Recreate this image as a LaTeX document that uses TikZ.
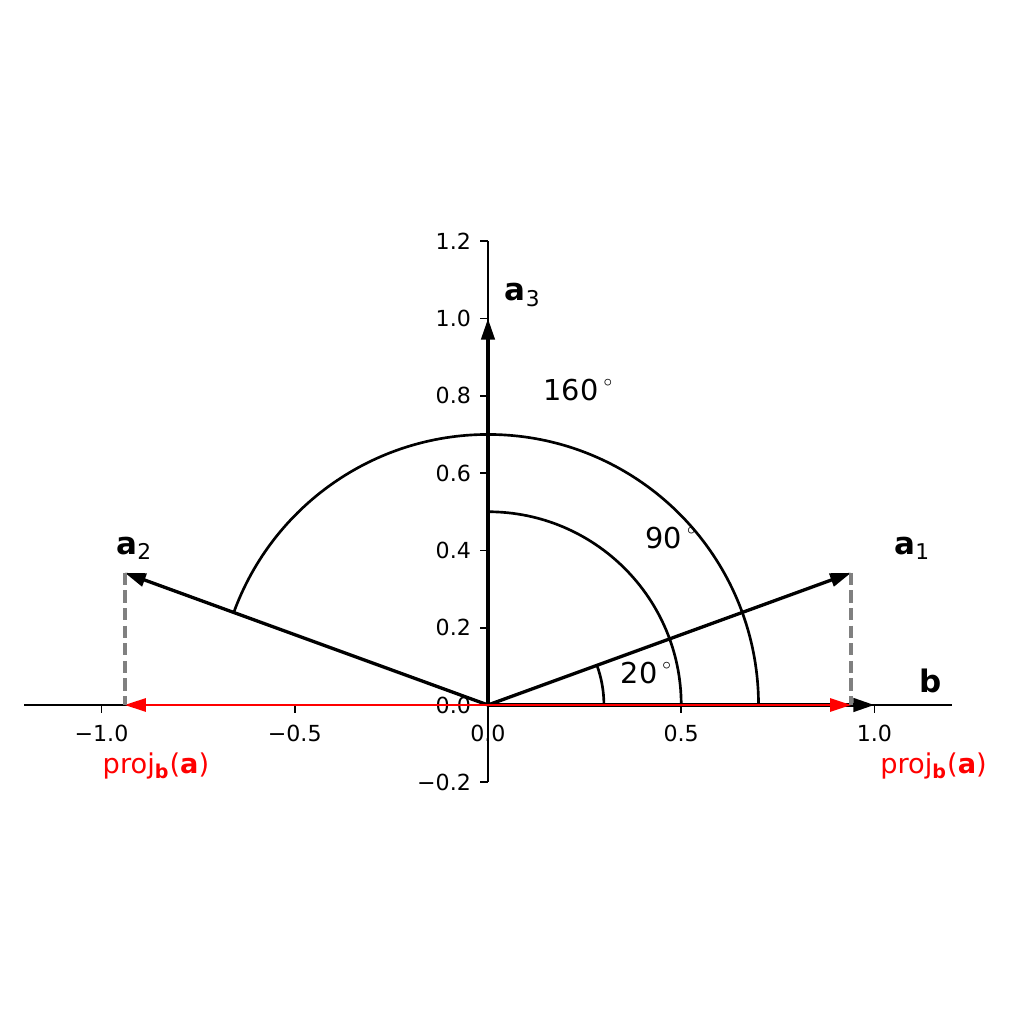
\documentclass[tikz,border=0pt]{standalone}
\usepackage{fontspec}
\setmainfont{DejaVu Sans}
\usetikzlibrary{arrows.meta,positioning}
\newcommand{\degsym}{\,\raisebox{6.3pt}{\fontsize{7}{7}\selectfont$\circ$}}

\begin{document}
\begin{tikzpicture}[
  x=6.136cm, y=6.136cm,
  spine/.style={draw, line width=0.8pt},
  vec/.style={draw, line width=1.5pt, -{Triangle[length=9.5pt,width=6pt]}},
  projvec/.style={vec, red, line width=0.9pt},
  drop/.style={draw, gray, line width=1.6pt, dash pattern=on 5.55pt off 2.4pt},
  angarc/.style={draw, line width=1.2pt},
  ticklab/.style={inner sep=0pt, font=\fontsize{10}{12}\selectfont},
  veclab/.style={inner sep=0pt, font=\fontsize{14}{17}\selectfont},
  anglab/.style={inner sep=0pt, font=\fontsize{13}{16}\selectfont},
  projlab/.style={inner sep=0pt, text=red, font=\fontsize{12.3}{14}\selectfont}
]
\useasboundingbox (-1.2626,-0.8254) rectangle (1.3868,1.8241);

% axes
\draw[spine] (-1.2,0) -- (1.2,0);
\draw[spine] (0,-0.2) -- (0,1.2);
\foreach \x/\lab [count=\i] in {-1/−1.0, -0.5/−0.5, 0/0.0, 0.5/0.5, 1/1.0} {
  \draw[spine] (\x,0) -- ++(0,-3.5pt);
  \node[ticklab, below=9pt] (xt\i) at (\x,0) {\lab};
}
\foreach \y/\lab [count=\i] in {-0.2/−0.2, 0/0.0, 0.2/0.2, 0.4/0.4, 0.6/0.6, 0.8/0.8, 1/1.0, 1.2/1.2} {
  \draw[spine] (0,\y) -- ++(-3.5pt,0);
  \node[ticklab, left=7.5pt] (yt\i) at (0,\y) {\lab};
}

% points
\coordinate (O) at (0,0);
\coordinate (A1) at (20:1);
\coordinate (A2) at (160:1);
\coordinate (A3) at (0,1);
\coordinate (B) at (1,0);
\coordinate (P1) at (0.9397,0);
\coordinate (P2) at (-0.9397,0);

% angle arcs
\draw[angarc] (0.3,0) arc[start angle=0, end angle=20, radius=0.3];
\draw[angarc] (0.5,0) arc[start angle=0, end angle=90, radius=0.5];
\draw[angarc] (0.7,0) arc[start angle=0, end angle=160, radius=0.7];

% vectors
\draw[vec] (O) -- (A1);
\draw[vec] (O) -- (A2);
\draw[vec] (O) -- (A3);
\draw[vec] (O) -- (B);
\draw[projvec] (O) -- (P1);
\draw[projvec] (O) -- (P2);
\draw[drop] (A1) -- (P1);
\draw[drop] (A2) -- (P2);

% labels
\node[veclab] (la1) at (1.098,0.406) {\textbf{a}\textsubscript{1}};
\node[veclab] (la2) at (-0.915,0.406) {\textbf{a}\textsubscript{2}};
\node[veclab] (la3) at (0.09,1.061) {\textbf{a}\textsubscript{3}};
\node[veclab] (lb) at (1.144,0.062) {\textbf{b}};
\node[anglab] (ang20) at (0.409,0.084) {20\degsym};
\node[anglab] (ang90) at (0.473,0.432) {90\degsym};
\node[anglab] (ang160) at (0.233,0.816) {160\degsym};
\node[projlab] (lp1) at (1.153,-0.158) {proj\textsubscript{\textbf{b}}(\textbf{a})};
\node[projlab] (lp2) at (-0.859,-0.158) {proj\textsubscript{\textbf{b}}(\textbf{a})};
\end{tikzpicture}
\end{document}
